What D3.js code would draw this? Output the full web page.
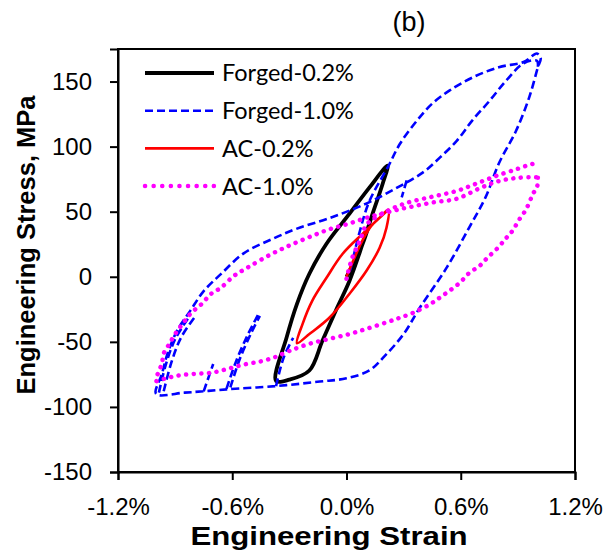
<!DOCTYPE html>
<html>
<head>
<meta charset="utf-8">
<script src="https://cdn.jsdelivr.net/npm/d3@7"></script>
<style>
  body { margin: 0; background: #fff; }
  text { font-family: "Liberation Sans", Arial, sans-serif; }
</style>
</head>
<body>
<div id="plot"></div>
<script>
// Width and height
var w = 608;
var h = 558;
var margin = { top: 49, right: 33, bottom: 86, left: 118 };

// Axis ticks
var xTicks = [-1.2, -0.6, 0, 0.6, 1.2];
var yTicks = [-150, -100, -50, 0, 50, 100, 150];

// Series names (legend order)
var seriesNames = ["Forged-0.2%", "Forged-1.0%", "AC-0.2%", "AC-1.0%"];

// Data: [strain %, stress MPa]; null breaks the path
var forged02 = [
	[0, 0], [0.084, 25], [0.137, 48.5], [0.19, 71.5], [0.216, 85.4],
	[0.12, 68.5], [0.016, 48.5], [-0.105, 25.4], [-0.195, 2.3], [-0.26, -20.8],
	[-0.315, -46.9], [-0.37, -80], [-0.3, -79], [-0.195, -72], [-0.126, -49],
	[-0.05, -24], [0.016, -3], [0.084, 25], [0.137, 48.5], [0.19, 71.5], [0.216, 85.4]
];

var forged10 = [
	// first loading
	[0.02, 5], [0.07, 35], [0.12, 58], [0.22, 85], [0.28, 102], [0.37, 120],
	[0.45, 133], [0.54, 143], [0.66, 153], [0.8, 161], [0.93, 165], [1.0, 171.5],
	// unloading into compression
	[1.02, 168], [1.005, 161], [0.96, 138], [0.89, 112], [0.8, 87], [0.73, 61],
	[0.645, 38], [0.526, 7], [0.384, -24], [0.3, -44], [0.2, -61], [0.12, -72],
	[0.0, -78], [-0.14, -80.5], [-0.37, -84], [-0.63, -86.5], [-0.75, -88],
	[-0.85, -89], [-1.0, -90],
	// reloading into tension
	[-0.97, -75], [-0.94, -59], [-0.89, -41.5], [-0.82, -26], [-0.75, -11],
	[-0.66, 2], [-0.54, 18], [-0.39, 29], [-0.26, 37], [-0.09, 45], [0.1, 56],
	[0.26, 68], [0.4, 80], [0.49, 91.5], [0.58, 104.6], [0.66, 120], [0.75, 135],
	[0.84, 151], [0.93, 164], [1.0, 166], [1.005, 161],
	null,
	[-0.985, -89], [-0.95, -68], [-0.9, -48], [-0.83, -31.5],
	null,
	[-0.96, -88], [-0.92, -66], [-0.87, -47], [-0.8, -31.5],
	null,
	[-0.75, -88], [-0.7, -67],
	null,
	[-0.63, -86], [-0.58, -65], [-0.52, -45], [-0.46, -28],
	null,
	[-0.61, -85], [-0.56, -63], [-0.5, -43], [-0.455, -30],
	null,
	[-0.37, -84], [-0.33, -62], [-0.28, -47],
	null,
	[0.316, 74], [0.29, 61]
];

var ac02 = [
	[0, 0], [0.04, 14], [0.084, 28], [0.13, 39], [0.174, 45.4], [0.22, 51.5],
	[0.21, 37.7], [0.174, 22.3], [0.105, 4.6], [0.016, -13], [-0.09, -31.5],
	[-0.195, -44], [-0.26, -51],
	[-0.23, -36], [-0.18, -18.5], [-0.105, -0.8], [-0.02, 17.7], [0.084, 33],
	[0.174, 45.4], [0.22, 51.5]
];

var ac10 = [
	// first loading
	[0, -1.5], [0.03, 14.6], [0.07, 27.7], [0.105, 40], [0.17, 47], [0.3, 56],
	[0.45, 61.5], [0.58, 66], [0.68, 71.5], [0.79, 77.7], [0.9, 83], [0.96, 86], [1.0, 87.5],
	null,
	// unloading
	[1.005, 76], [1.0, 68.5], [0.98, 64], [0.96, 57], [0.94, 51], [0.91, 44.6],
	[0.87, 35], [0.84, 30], [0.79, 21.5], [0.74, 14.6], [0.7, 8.5], [0.645, 3],
	[0.595, -4.6], [0.54, -10.8], [0.49, -16], [0.44, -21], [0.35, -27.7],
	[0.28, -31.5], [0.21, -35], [0.105, -40], [0.016, -44], [-0.09, -47.7],
	[-0.195, -51.5], [-0.3, -57], [-0.38, -62], [-0.45, -65], [-0.54, -67.5],
	[-0.625, -70.8], [-0.71, -73.8], [-0.8, -74.6], [-0.89, -76], [-0.96, -78.5], [-1.0, -80],
	// reloading
	[-0.99, -74], [-0.97, -67], [-0.96, -59], [-0.93, -51.5], [-0.9, -44],
	[-0.86, -36], [-0.82, -28.5], [-0.76, -20.8], [-0.71, -13], [-0.66, -8.5],
	[-0.59, 0.8], [-0.52, 7], [-0.4, 17], [-0.3, 24], [-0.195, 30.5], [-0.09, 36.5],
	[0.016, 41], [0.12, 46], [0.226, 50], [0.33, 53.5], [0.45, 57], [0.58, 60],
	[0.7, 68], [0.8, 73.5], [0.9, 76], [1.0, 76.5]
];

var seriesData = [forged02, forged10, ac02, ac10];

// Styles per series
var styles = [
	{ color: "#000000", width: 3.8, dash: null, cap: "butt" },
	{ color: "#0000ff", width: 2.6, dash: "8,4", cap: "butt" },
	{ color: "#ff0000", width: 2.6, dash: null, cap: "butt" },
	{ color: "#ff00ff", width: 4.5, dash: "0.1,7.5", cap: "round" }
];

// Plain hyphen for negative numbers, like the original
function fmt(spec) {
	var f = d3.format(spec);
	return function(d) { return f(d).replace("\u2212", "-"); };
}

// Scales
var x = d3.scaleLinear()
	.domain([-1.2, 1.2])
	.range([margin.left, w - margin.right]);

var y = d3.scaleLinear()
	.domain([-150, 175])
	.range([h - margin.bottom, margin.top]);

// Create SVG element
var svg = d3.select("#plot")
	.append("svg")
	.attr("width", w)
	.attr("height", h);

// Panel label
svg.append("text")
	.attr("x", 409)
	.attr("y", 31)
	.attr("text-anchor", "middle")
	.style("font-size", "27px")
	.text("(b)");

// Frame round the plot area (top and right)
svg.append("rect")
	.attr("x", x(-1.2))
	.attr("y", y(175))
	.attr("width", x(1.2) - x(-1.2))
	.attr("height", y(-150) - y(175))
	.style("fill", "none")
	.style("stroke", "#000")
	.style("stroke-width", 2);

// Axes
var xFmt = fmt(".1f");
var xAxis = svg.append("g")
	.attr("transform", "translate(0," + y(-150) + ")")
	.call(d3.axisBottom(x)
		.tickValues(xTicks)
		.tickSize(8)
		.tickPadding(18)
		.tickFormat(function(d) { return xFmt(d) + "%"; }));

var yAxis = svg.append("g")
	.attr("transform", "translate(" + x(-1.2) + ",0)")
	.call(d3.axisLeft(y)
		.tickValues(yTicks)
		.tickSize(8)
		.tickPadding(18)
		.tickFormat(fmt("d")));

[xAxis, yAxis].forEach(function(ax) {
	ax.select(".domain").style("stroke", "#000").style("stroke-width", 2);
	ax.selectAll(".tick line").style("stroke", "#000").style("stroke-width", 2);
	ax.selectAll(".tick text")
		.style("font-size", "24px")
		.style("font-family", "'Liberation Sans', Arial, sans-serif")
		.style("fill", "#000");
});

// Axis titles (the x title is a bit stretched in the original)
svg.append("text")
	.attr("transform", "translate(329,545) scale(1.2,1)")
	.attr("text-anchor", "middle")
	.style("font-size", "26px")
	.style("font-weight", "bold")
	.text("Engineering Strain");

svg.append("text")
	.attr("transform", "translate(35,245) rotate(-90)")
	.attr("text-anchor", "middle")
	.style("font-size", "25.5px")
	.style("font-weight", "bold")
	.text("Engineering Stress, MPa");

// Lines
var line = d3.line()
	.defined(function(d) { return d !== null; })
	.x(function(d) { return x(d[0]); })
	.y(function(d) { return y(d[1]); })
	.curve(d3.curveCatmullRom.alpha(0.5));

var drawOrder = [0, 1, 2, 3];
drawOrder.forEach(function(i) {
	var s = styles[i];
	svg.append("path")
		.datum(seriesData[i])
		.attr("d", line)
		.style("fill", "none")
		.style("stroke", s.color)
		.style("stroke-width", s.width)
		.style("stroke-dasharray", s.dash)
		.style("stroke-linecap", s.cap)
		.style("stroke-linejoin", "round");
});

// Legend
var legend = svg.selectAll(".legend")
	.data(seriesNames)
	.enter()
	.append("g")
	.attr("class", "legend")
	.attr("transform", function(d, i) { return "translate(145," + (73 + i * 37.7) + ")"; });

legend.append("line")
	.attr("x1", 0)
	.attr("x2", 69)
	.style("stroke", function(d, i) { return styles[i].color; })
	.style("stroke-width", function(d, i) { return styles[i].width; })
	.style("stroke-dasharray", function(d, i) { return i === 3 ? "0.1,8.5" : styles[i].dash; })
	.style("stroke-linecap", function(d, i) { return styles[i].cap; });

legend.append("text")
	.attr("x", 77)
	.attr("dy", "0.36em")
	.style("font-family", "Lato, 'Open Sans', sans-serif")
	.style("font-size", "23.5px")
	.text(function(d) { return d; });
</script>
</body>
</html>
